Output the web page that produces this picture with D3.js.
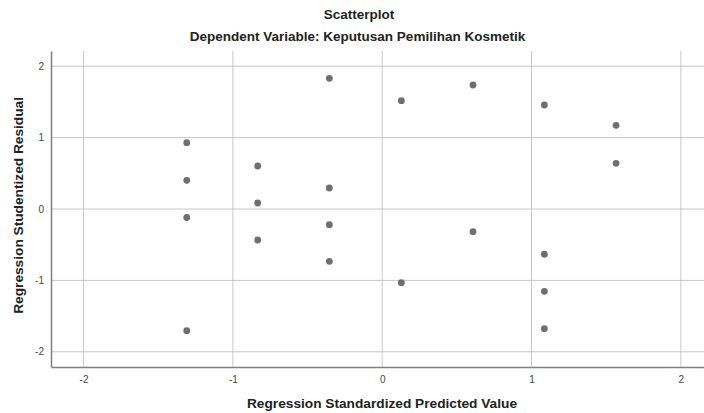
<!DOCTYPE html>
<html>
<head>
<meta charset="utf-8">
<script src="https://cdn.jsdelivr.net/npm/d3@7"></script>
<style>
  body { margin: 0; background: #fff; }
  text { font-family: "Liberation Sans", Arial, sans-serif; }
</style>
</head>
<body>
<svg id="chart" width="704" height="413"></svg>
<script>
// predicted (x) and studentized residual (y) values
const predicted = [-1.309, -1.309, -1.309, -1.309,
                   -0.834, -0.834, -0.834,
                   -0.354, -0.354, -0.354, -0.354,
                   0.128, 0.128,
                   0.608, 0.608,
                   1.086, 1.086, 1.086, 1.086,
                   1.566, 1.566];
const residual = [0.929, 0.402, -0.119, -1.704,
                  0.602, 0.084, -0.434,
                  1.830, 0.294, -0.220, -0.733,
                  1.517, -1.032,
                  1.737, -0.318,
                  1.457, -0.634, -1.153, -1.676,
                  1.172, 0.640];
const xTicks = [-2, -1, 0, 1, 2];
const yTicks = [-2, -1, 0, 1, 2];

const svg = d3.select('#chart');
const margin = { left: 51, top: 51, right: 0, bottom: 46 };
const W = 704, H = 413;

// plot runs off the right edge, so the x domain is asymmetric
var x = d3.scaleLinear().domain([-2.218, 2.155]).range([margin.left, W - margin.right]);
var y = d3.scaleLinear().domain([-2.213, 2.213]).range([H - margin.bottom, margin.top]);

const points = predicted.map((p, i) => ({ x: p, y: residual[i] }));

// grid
svg.append('g').selectAll('line.vgrid')
    .data(xTicks).enter()
    .append('line')
    .attr('class', 'vgrid')
    .attr('x1', d => x(d)).attr('x2', d => x(d))
    .attr('y1', margin.top).attr('y2', H - margin.bottom)
    .style('stroke', '#c8c8c8').style('stroke-width', 1);

svg.append('g').selectAll('line.hgrid')
    .data(yTicks).enter()
    .append('line')
    .attr('class', 'hgrid')
    .attr('x1', margin.left).attr('x2', W)
    .attr('y1', d => y(d)).attr('y2', d => y(d))
    .style('stroke', '#c8c8c8').style('stroke-width', 1);

// axes
var xAxis = d3.axisBottom(x).tickValues(xTicks).tickSize(0).tickPadding(9)
    .tickFormat(d => String(d).replace('\u2212', '-'));
var yAxis = d3.axisLeft(y).tickValues(yTicks).tickSize(0).tickPadding(7)
    .tickFormat(d => String(d).replace('\u2212', '-'));

var gx = svg.append('g')
    .attr('transform', 'translate(0,' + (H - margin.bottom) + ')')
    .call(xAxis);
var gy = svg.append('g')
    .attr('transform', 'translate(' + margin.left + ',0)')
    .call(yAxis);

[gx, gy].forEach(g => {
    g.select('.domain').style('stroke', '#808080').style('stroke-width', 1.5);
    g.selectAll('text')
        .style('font-family', '"Liberation Sans", Arial, sans-serif')
        .style('font-size', '10px')
        .style('fill', '#444');
});

// points
svg.append('g').selectAll('circle')
    .data(points).enter()
    .append('circle')
    .attr('cx', d => x(d.x))
    .attr('cy', d => y(d.y))
    .attr('r', 3.4)
    .style('fill', '#6f6f6f');

// titles
svg.append('text')
    .attr('x', 359).attr('y', 19)
    .attr('text-anchor', 'middle')
    .style('font-size', '13.5px').style('font-weight', 'bold').style('fill', '#222')
    .text('Scatterplot');

svg.append('text')
    .attr('x', 357.5).attr('y', 41)
    .attr('text-anchor', 'middle')
    .style('font-size', '13.5px').style('font-weight', 'bold').style('fill', '#222')
    .text('Dependent Variable: Keputusan Pemilihan Kosmetik');

svg.append('text')
    .attr('x', 382).attr('y', 408)
    .attr('text-anchor', 'middle')
    .style('font-size', '13.7px').style('font-weight', 'bold').style('fill', '#222')
    .text('Regression Standardized Predicted Value');

svg.append('text')
    .attr('transform', 'translate(23,' + y(0.05) + ') rotate(-90)')
    .attr('text-anchor', 'middle')
    .style('font-size', '13.7px').style('font-weight', 'bold').style('fill', '#222')
    .text('Regression Studentized Residual');
</script>
</body>
</html>
